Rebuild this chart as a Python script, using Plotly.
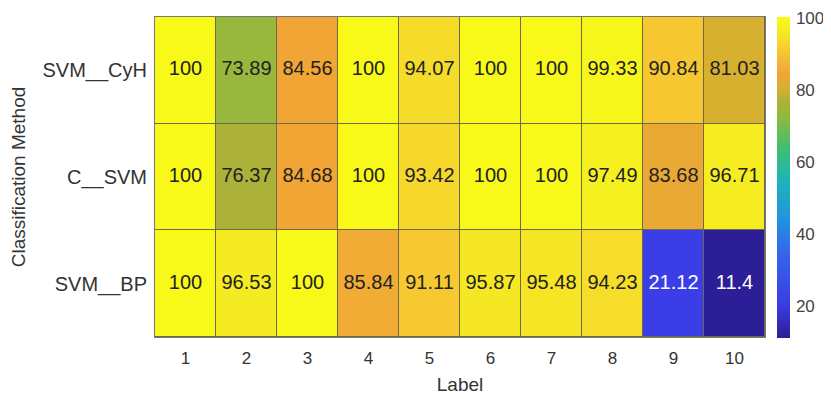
import plotly.graph_objects as go

labels = ["1", "2", "3", "4", "5", "6", "7", "8", "9", "10"]
methods = ["SVM__BP", "C__SVM", "SVM__CyH"]  # bottom to top
svm_bp = [100, 96.53, 100, 85.84, 91.11, 95.87, 95.48, 94.23, 21.12, 11.4]
c_svm = [100, 76.37, 84.68, 100, 93.42, 100, 100, 97.49, 83.68, 96.71]
svm_cyh = [100, 73.89, 84.56, 100, 94.07, 100, 100, 99.33, 90.84, 81.03]
z = [svm_bp, c_svm, svm_cyh]

zmin, zmax = 11.4, 100.4
stops = [(11.4, "#2c1e96"), (21.0, "#3b3ee6"), (35, "#3466ea"), (45, "#2296dc"),
         (55, "#1bb4b8"), (64, "#3fbf70"), (72, "#88bb40"), (77, "#b0b038"),
         (81, "#d8b030"), (84.6, "#f0a535"), (90, "#f6c233"), (94, "#f5dc2a"),
         (97, "#f5ee20"), (100.4, "#f8fa18")]
cscale = [[(v - zmin) / (zmax - zmin), c] for v, c in stops]

W, H = 823, 391
fig = go.Figure()
fig.add_trace(go.Heatmap(
    z=z, x=labels, y=methods, zmin=zmin, zmax=zmax, colorscale=cscale,
    xgap=1, ygap=1, hoverinfo="skip",
    colorbar=dict(x=769 / W, xref="container", xanchor="left", thickness=13,
                  len=321, lenmode="pixels", y=0.5,
                  yanchor="middle", outlinewidth=0, xpad=0, ypad=0,
                  ticks="outside", ticklen=3, tickcolor="rgba(0,0,0,0)",
                  tickvals=[20, 40, 60, 80, 100],
                  tickfont=dict(size=17, color="#444", family="Liberation Sans"))
))

tx, ty, tt, tc = [], [], [], []
for row, m in zip(z, methods):
    for lab, v in zip(labels, row):
        tx.append(lab); ty.append(m)
        tt.append(f"{v:g}")
        tc.append("white" if v < 40 else "#222")
fig.add_trace(go.Scatter(x=tx, y=ty, mode="text", text=tt,
                         textfont=dict(size=20, color=tc, family="Liberation Sans"),
                         hoverinfo="skip", showlegend=False))

fig.update_layout(
    width=W, height=H,
    margin=dict(l=147, r=66, t=9, b=62, autoexpand=False),
    paper_bgcolor="white", plot_bgcolor="#6e6a48",
    font=dict(family="Liberation Sans", color="#333"),
    showlegend=False,
)
fig.update_xaxes(type="category", automargin=False,
                 title=dict(text="Label", font=dict(size=19), standoff=10),
                 tickfont=dict(size=17), ticks="", ticklabelstandoff=6,
                 showgrid=False, zeroline=False,
                 showline=True, linecolor="#777", mirror=True, linewidth=1)
fig.update_yaxes(type="category", automargin=False,
                 title=dict(text="Classification Method", font=dict(size=19)),
                 tickfont=dict(size=20), ticks="", ticklabelstandoff=3,
                 showgrid=False, zeroline=False,
                 showline=True, linecolor="#777", mirror=True, linewidth=1)

fig.write_html("out.html")
